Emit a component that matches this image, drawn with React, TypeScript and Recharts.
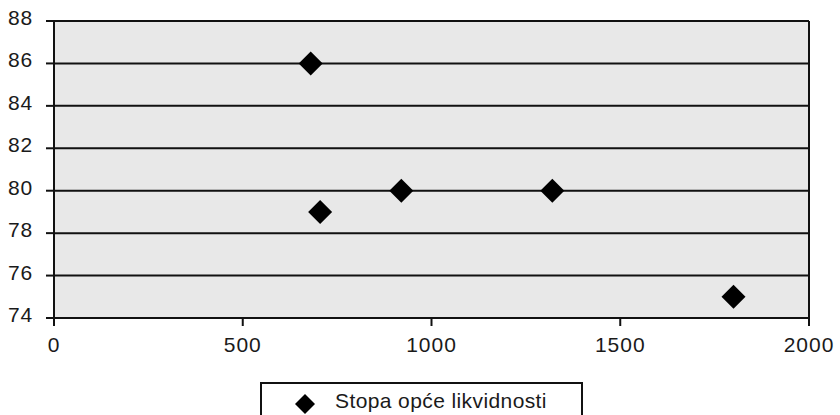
import React from 'react';
import { ScatterChart, Scatter, XAxis, YAxis, CartesianGrid, ReferenceLine } from 'recharts';

const xValues = [680, 705, 920, 1320, 1800];
const yValues = [86, 79, 80, 80, 75];
const xTicks = [0, 500, 1000, 1500, 2000];
const yTicks = [74, 76, 78, 80, 82, 84, 86, 88];
const seriesName = 'Stopa opće likvidnosti';

const data = xValues.map((x, i) => ({ x, y: yValues[i] }));

const FONT = '"Liberation Sans", Arial, sans-serif';

const Diamond = (props: any) => {
  const { cx, cy } = props;
  const r = 12;
  return (
    <polygon
      points={`${cx},${cy - r} ${cx + r},${cy} ${cx},${cy + r} ${cx - r},${cy}`}
      fill="#000"
    />
  );
};

const YTick = (props: any) => {
  const { x, y, payload } = props;
  return (
    <text x={x} y={y} dy={4} textAnchor="end" fontSize={21} letterSpacing={0.8} fontFamily={FONT} fill="#1a1a1a">
      {payload.value}
    </text>
  );
};

const XTick = (props: any) => {
  const { x, y, payload } = props;
  return (
    <text x={x} y={y} dy={22} textAnchor="middle" fontSize={21} letterSpacing={1} fontFamily={FONT} fill="#1a1a1a">
      {payload.value}
    </text>
  );
};

const LegendBox = () => (
  <div
    style={{
      position: 'absolute',
      left: 260,
      top: 382,
      width: 319,
      height: 40,
      border: '2px solid #111',
      background: '#fff',
      fontFamily: FONT,
    }}
  >
    <svg width={30} height={30} style={{ position: 'absolute', left: 28, top: 5 }}>
      <polygon points="15,5 25,15 15,25 5,15" fill="#000" />
    </svg>
    <span
      style={{
        position: 'absolute',
        left: 73,
        top: 5,
        fontSize: 21,
        lineHeight: '24px',
        color: '#1a1a1a',
        whiteSpace: 'nowrap',
        letterSpacing: 0.4,
      }}
    >
      {seriesName}
    </span>
  </div>
);

export default function App() {
  return (
    <div style={{ position: 'absolute', left: 0, top: 0, width: 840, height: 415, background: '#fff', overflow: 'hidden' }}>
      <ScatterChart width={840} height={415} margin={{ top: 21, right: 31, bottom: 0, left: 0 }}>
        <CartesianGrid horizontal vertical={false} fill="#e8e8e8" stroke="#111" strokeWidth={2} />
        <XAxis
          type="number"
          dataKey="x"
          domain={[0, 2000]}
          ticks={xTicks}
          interval={0}
          tickSize={8}
          tickMargin={4}
          axisLine={{ stroke: '#111', strokeWidth: 2 }}
          tickLine={{ stroke: '#111', strokeWidth: 2 }}
          tick={<XTick />}
          height={97}
        />
        <YAxis
          type="number"
          dataKey="y"
          domain={[74, 88]}
          ticks={yTicks}
          interval={0}
          width={54}
          tickSize={8}
          tickMargin={13}
          axisLine={{ stroke: '#111', strokeWidth: 2 }}
          tickLine={{ stroke: '#111', strokeWidth: 2 }}
          tick={<YTick />}
        />
        <ReferenceLine x={2000} stroke="#111" strokeWidth={2} />
        <Scatter name={seriesName} data={data} fill="#000" shape={<Diamond />} isAnimationActive={false} />
      </ScatterChart>
      <LegendBox />
    </div>
  );
}
